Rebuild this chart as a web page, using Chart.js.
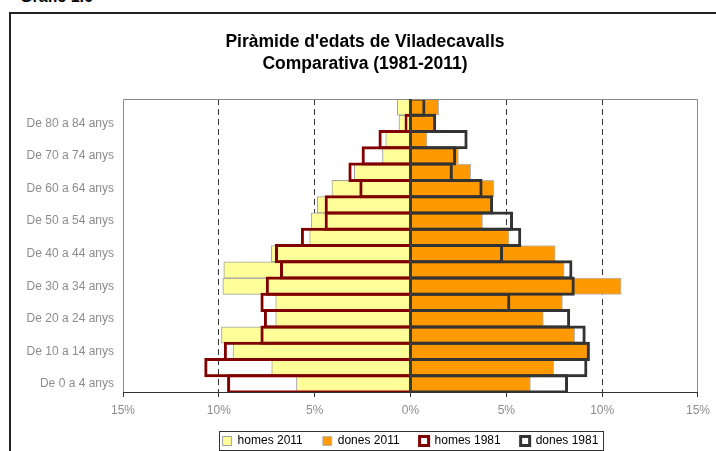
<!DOCTYPE html>
<html>
<head>
<meta charset="utf-8">
<script src="https://cdn.jsdelivr.net/npm/chart.js@4"></script>
<style>
  html, body { margin: 0; padding: 0; background: #fff; overflow: hidden; }
  #wrap { position: relative; width: 716px; height: 451px; overflow: hidden; }
  #heading { position: absolute; left: 20px; top: -12px; font: bold 16px "Liberation Sans", Arial, sans-serif; color: #000; white-space: nowrap; }
  #frame { position: absolute; left: 9px; top: 12px; width: 730px; height: 470px; border: 2px solid #222; }
  canvas { position: absolute; left: 0; top: 0; }
</style>
</head>
<body>
<div id="wrap">
  <div id="heading">Gràfic 1.6</div>
  <div id="frame"></div>
  <canvas id="pyramid" width="716" height="457"></canvas>
</div>
<script>
// grups d'edat, de baix a dalt
const ageGroups = ['De 0 a 4 anys', 'De 5 a 9 anys', 'De 10 a 14 anys', 'De 15 a 19 anys',
  'De 20 a 24 anys', 'De 25 a 29 anys', 'De 30 a 34 anys', 'De 35 a 39 anys',
  'De 40 a 44 anys', 'De 45 a 49 anys', 'De 50 a 54 anys', 'De 55 a 59 anys',
  'De 60 a 64 anys', 'De 65 a 69 anys', 'De 70 a 74 anys', 'De 75 a 79 anys',
  'De 80 a 84 anys', 'De 85 anys i més'];

// % sobre el total de població
const homes2011 = [5.95, 7.24, 9.26, 9.86, 7.03, 7.03, 9.79, 9.74, 7.27, 5.26, 5.17, 4.86, 4.10, 2.93, 1.46, 1.29, 0.60, 0.69];
const dones2011 = [6.26, 7.47, 9.28, 8.57, 6.93, 7.93, 10.99, 8.02, 7.55, 5.14, 3.76, 4.24, 4.35, 3.14, 2.50, 0.86, 1.24, 1.47];
const homes1981 = [9.57, 10.76, 9.74, 7.83, 7.65, 7.83, 7.55, 6.81, 7.07, 5.72, 4.48, 4.48, 2.67, 3.24, 2.55, 1.67, 0.31, 0];
const dones1981 = [8.22, 9.23, 9.36, 9.14, 8.33, 5.21, 8.57, 8.45, 4.83, 5.78, 5.35, 4.31, 3.76, 2.21, 2.38, 2.98, 1.34, 0.78];

const xMin = -15, xMax = 15, xStep = 5;
const titleLines = ["Piràmide d'edats de Viladecavalls", 'Comparativa (1981-2011)'];

const FONT = '"Liberation Sans", Arial, sans-serif';
const outlinePct = 1 + 3 / (291 / ageGroups.length);

const chartTitle = {
  id: 'chartTitle',
  afterDraw(chart) {
    const ctx = chart.ctx;
    ctx.save();
    ctx.font = 'bold 17.5px ' + FONT;
    ctx.fillStyle = '#000';
    ctx.textAlign = 'center';
    ctx.textBaseline = 'middle';
    ctx.fillText(titleLines[0], 365, 42);
    ctx.fillText(titleLines[1], 365, 64);
    ctx.restore();
  }
};

const plotFrame = {
  id: 'plotFrame',
  afterDatasetsDraw(chart) {
    const {ctx, chartArea: a, scales} = chart;
    ctx.save();
    ctx.lineWidth = 1;
    ctx.strokeStyle = '#8a8a8a';
    ctx.beginPath();
    ctx.moveTo(a.left + 0.5, a.bottom);
    ctx.lineTo(a.left + 0.5, a.top + 0.5);
    ctx.lineTo(a.right - 0.5, a.top + 0.5);
    ctx.lineTo(a.right - 0.5, a.bottom);
    ctx.stroke();
    ctx.strokeStyle = '#333';
    ctx.beginPath();
    ctx.moveTo(a.left, a.bottom + 0.5);
    ctx.lineTo(a.right, a.bottom + 0.5);
    ctx.stroke();
    // eix del zero
    const x0 = scales.x.getPixelForValue(0);
    ctx.lineWidth = 3;
    ctx.strokeStyle = '#3a3a3a';
    ctx.beginPath();
    ctx.moveTo(x0, a.top);
    ctx.lineTo(x0, a.bottom);
    ctx.stroke();
    ctx.restore();
  }
};

// llegenda centrada sota l'àrea del gràfic, amb marc
const legendBox = {
  id: 'legendBox',
  afterLayout(chart) {
    const lg = chart.legend;
    const a = chart.chartArea;
    const shift = (a.left + a.right) / 2 - (lg.left + lg.right) / 2;
    lg.left += shift;
    lg.right += shift;
  },
  afterDraw(chart) {
    const boxes = chart.legend.legendHitBoxes;
    if (!boxes || !boxes.length) return;
    const ctx = chart.ctx;
    let l = Infinity, r = -Infinity, t = Infinity, b = -Infinity;
    boxes.forEach(h => {
      l = Math.min(l, h.left); r = Math.max(r, h.left + h.width);
      t = Math.min(t, h.top); b = Math.max(b, h.top + h.height);
    });
    ctx.save();
    ctx.strokeStyle = '#333';
    ctx.lineWidth = 1;
    ctx.strokeRect(Math.round(l - 4) + 0.5, Math.round(t - 4) + 0.5, Math.round(r - l + 8), Math.round(b - t + 7));
    ctx.restore();
  }
};

new Chart(document.getElementById('pyramid'), {
  type: 'bar',
  data: {
    labels: ageGroups,
    datasets: [{
      label: 'homes 2011',
      data: homes2011.map(v => -v),
      backgroundColor: '#ffff99',
      borderColor: '#a0a0a0',
      borderWidth: 1,
      barPercentage: 1,
      order: 1
    }, {
      label: 'dones 2011',
      data: dones2011,
      backgroundColor: '#ff9900',
      borderColor: '#b8b8b8',
      borderWidth: 1,
      barPercentage: 1,
      order: 1
    }, {
      label: 'homes 1981',
      data: homes1981.map(v => -v),
      backgroundColor: 'rgba(255,255,255,0)',
      borderColor: '#800000',
      borderWidth: 3,
      borderSkipped: 'start',
      barPercentage: outlinePct,
      order: 0
    }, {
      label: 'dones 1981',
      data: dones1981,
      backgroundColor: 'rgba(255,255,255,0)',
      borderColor: '#333333',
      borderWidth: 3,
      borderSkipped: 'start',
      barPercentage: outlinePct,
      order: 0
    }]
  },
  options: {
    indexAxis: 'y',
    responsive: false,
    animation: false,
    layout: { padding: { left: 0, right: 13, top: 99, bottom: 0 } },
    datasets: { bar: { grouped: false, categoryPercentage: 1 } },
    scales: {
      x: {
        min: xMin,
        max: xMax,
        ticks: {
          stepSize: xStep,
          callback: v => Math.abs(v) + '%',
          color: '#8c8c8c',
          font: { family: FONT, size: 12 },
          padding: 6,
          maxRotation: 0
        },
        grid: {
          color: c => (Math.abs(c.tick.value) === 5 || Math.abs(c.tick.value) === 10) ? '#333' : 'rgba(0,0,0,0)',
          tickColor: '#333',
          tickLength: 5,
          lineWidth: 1
        },
        border: { display: false, dash: [6, 4] },
        afterFit: s => { s.height = 23; }
      },
      y: {
        reverse: true,
        afterFit: s => { s.width = 123; },
        grid: { display: false, drawTicks: false },
        border: { display: false },
        ticks: {
          autoSkip: false,
          padding: 9,
          color: '#8c8c8c',
          font: { family: FONT, size: 12 },
          callback: function (v, i) { return i % 2 === 0 ? this.getLabelForValue(v) : ''; }
        }
      }
    },
    plugins: {
      legend: {
        position: 'bottom',
        labels: {
          boxWidth: 9,
          boxHeight: 9,
          padding: 20,
          color: '#000',
          font: { family: FONT, size: 12 },
          sort: (a, b) => a.datasetIndex - b.datasetIndex
        }
      },
      tooltip: { enabled: false },
      title: { display: false }
    }
  },
  plugins: [chartTitle, plotFrame, legendBox]
});
</script>
</body>
</html>
